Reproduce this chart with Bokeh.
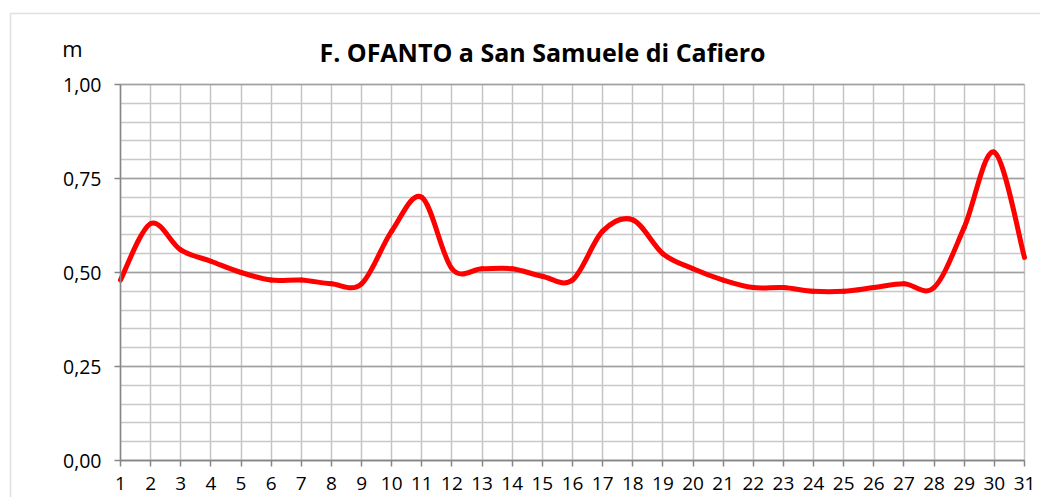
from bokeh.plotting import figure
from bokeh.models import Range1d, FixedTicker, Label, BoxAnnotation, ColumnDataSource
from bokeh.embed import file_html
from bokeh.resources import INLINE
import numpy as np

# ---- data ----
days = list(range(1, 32))
levels = [0.48, 0.63, 0.56, 0.53, 0.50, 0.48, 0.48, 0.47, 0.47, 0.61,
          0.70, 0.51, 0.51, 0.51, 0.49, 0.48, 0.61, 0.64, 0.55, 0.51,
          0.48, 0.46, 0.46, 0.45, 0.45, 0.46, 0.47, 0.46, 0.62, 0.82,
          0.54]
y_ticks = [0.0, 0.25, 0.5, 0.75, 1.0]
y_tick_labels = ["0,00", "0,25", "0,50", "0,75", "1,00"]
title_text = "F. OFANTO a San Samuele di Cafiero"
unit_text = "m"

# ---- layout (pixels) ----
W, H = 1040, 497
PL, PR, PT, PB = 120, 1024, 84, 460          # plot-area edges on the canvas
X0, X1 = days[0], days[-1]
Y0, Y1 = y_ticks[0], y_ticks[-1]
kx = (X1 - X0) / (PR - PL)
ky = (Y1 - Y0) / (PB - PT)

# ---- smoothed line (Excel-like Catmull-Rom bezier between data points) ----
x = np.array(days, dtype=float)
y = np.array(levels, dtype=float)
n = len(x)
x0, y0, x1, y1, cx0, cy0, cx1, cy1 = [], [], [], [], [], [], [], []
for i in range(n - 1):
    xp, yp = (x[i - 1], y[i - 1]) if i > 0 else (x[i], y[i])
    xn, yn = (x[i + 2], y[i + 2]) if i + 2 < n else (x[i + 1], y[i + 1])
    x0.append(x[i]); y0.append(y[i]); x1.append(x[i + 1]); y1.append(y[i + 1])
    cx0.append(x[i] + (x[i + 1] - xp) / 6.0); cy0.append(y[i] + (y[i + 1] - yp) / 6.0)
    cx1.append(x[i + 1] - (xn - x[i]) / 6.0); cy1.append(y[i + 1] - (yn - y[i]) / 6.0)
src = ColumnDataSource(dict(x0=x0, y0=y0, x1=x1, y1=y1, cx0=cx0, cy0=cy0, cx1=cx1, cy1=cy1))

p = figure(width=W, height=H, output_backend="svg", toolbar_location=None,
           x_range=Range1d(X0 - PL * kx, X1 + (W - PR) * kx),
           y_range=Range1d(Y0 - (H - PB) * ky, Y1 + PT * ky),
           min_border=0)
p.outline_line_color = None
p.background_fill_color = "white"
p.border_fill_color = "white"

# axes placed at the plot-area edges
p.xaxis.fixed_location = Y0
p.xaxis.bounds = (X0, X1)
p.yaxis.fixed_location = X0
p.yaxis.bounds = (Y0, Y1)
p.xaxis.ticker = FixedTicker(ticks=days)
p.yaxis.ticker = FixedTicker(ticks=y_ticks)
p.yaxis.major_label_overrides = {t: l for t, l in zip(y_ticks, y_tick_labels)}
for ax in (p.xaxis[0], p.yaxis[0]):
    ax.axis_line_color = "#868686"
    ax.axis_line_width = 1.5
    ax.major_tick_line_color = "#868686"
    ax.major_tick_line_width = 1.5
    ax.major_tick_in = 0
    ax.major_tick_out = 6
    ax.minor_tick_line_color = None
    ax.major_label_text_font = "Open Sans"
    ax.major_label_text_color = "#000000"
p.xaxis.major_label_text_font_size = "19px"
p.yaxis.major_label_text_font_size = "19.5px"
p.xaxis.major_label_standoff = 10
p.yaxis.major_label_standoff = 13

# grids
p.xgrid.ticker = FixedTicker(ticks=days)
p.xgrid.cross_bounds = (Y0, Y1)
p.xgrid.grid_line_color = "#c4c4c4"
p.xgrid.grid_line_width = 1.5
p.ygrid.ticker = FixedTicker(ticks=y_ticks, minor_ticks=list(np.round(np.arange(Y0, Y1 + 1e-9, 0.05), 2)))
p.ygrid.cross_bounds = (X0, X1)
p.ygrid.grid_line_color = "#a0a0a0"
p.ygrid.grid_line_width = 1.5
p.ygrid.minor_grid_line_color = "#c8c8c8"
p.ygrid.minor_grid_line_width = 1.5

# series
p.bezier(x0="x0", y0="y0", x1="x1", y1="y1", cx0="cx0", cy0="cy0", cx1="cx1", cy1="cy1",
         source=src, line_color="#ff0000", line_width=5, line_cap="round")

# texts (screen units: from frame bottom-left, y up)
p.add_layout(Label(x=542, y=H - 51, x_units="screen", y_units="screen", text=title_text,
                   text_font="Open Sans", text_font_style="bold", text_font_size="25px",
                   text_align="center", text_baseline="middle", text_color="#000000"))
p.add_layout(Label(x=72, y=H - 47, x_units="screen", y_units="screen", text=unit_text,
                   text_font="Open Sans", text_font_size="22px",
                   text_align="center", text_baseline="middle", text_color="#000000"))

# outer chart border
p.add_layout(BoxAnnotation(left=10, right=W + 500, top=H - 13, bottom=-500,
                           left_units="screen", right_units="screen",
                           top_units="screen", bottom_units="screen",
                           fill_color=None, line_color="#999999", line_width=1.5))

open("out.html", "w").write(file_html(p, INLINE))
